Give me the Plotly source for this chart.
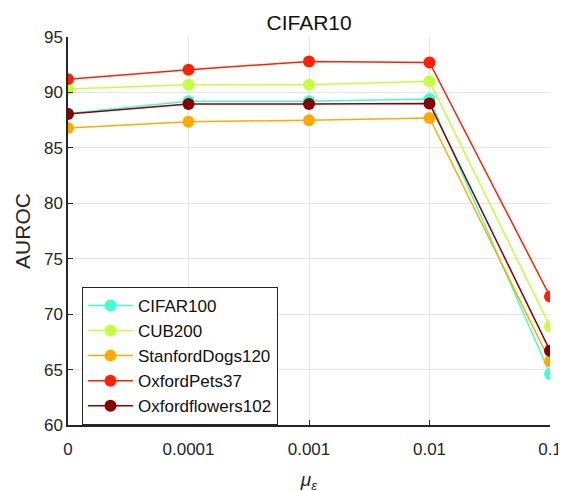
import plotly.graph_objects as go

x_labels = ['0', '0.0001', '0.001', '0.01', '0.1']
series_names = ['CIFAR100', 'CUB200', 'StanfordDogs120', 'OxfordPets37', 'Oxfordflowers102']
cifar100 = [88.1, 89.2, 89.2, 89.4, 64.6]
cub200 = [90.3, 90.7, 90.7, 91.0, 68.9]
dogs120 = [86.8, 87.35, 87.5, 87.7, 65.75]
pets37 = [91.2, 92.05, 92.8, 92.7, 71.6]
flowers102 = [88.05, 88.95, 88.95, 89.0, 66.7]

colors = ['#40FFD0', '#C4FF40', '#FFAA00', '#FF2200', '#880000']
all_series = [cifar100, cub200, dogs120, pets37, flowers102]

fig = go.Figure()
for name, vals, col in zip(series_names, all_series, colors):
    fig.add_trace(go.Scatter(
        x=list(range(len(x_labels))), y=vals, name=name,
        mode='lines+markers',
        line=dict(color=col, width=1.5),
        marker=dict(color=col, size=12),
    ))

font_family = 'Liberation Sans, Arial, sans-serif'
fig.update_layout(
    width=566, height=491,
    margin=dict(l=60, r=24, t=29, b=74),
    paper_bgcolor='white', plot_bgcolor='white',
    font=dict(family=font_family, size=17, color='#262626'),
    title=dict(text='CIFAR10', x=0.532, xanchor='center', y=0.985, yanchor='top',
               font=dict(size=21, color='#111111')),
    showlegend=True,
    legend=dict(x=0.029, y=0.356, xanchor='left', yanchor='top',
                bgcolor='white', bordercolor='#262626', borderwidth=1,
                font=dict(size=17, color='#111111'), itemwidth=45,
                tracegroupgap=0),
    xaxis=dict(
        tickmode='array', tickvals=list(range(len(x_labels))), ticktext=x_labels,
        range=[0, 4], showgrid=True, gridcolor='#e3e3e3', gridwidth=1,
        showline=True, linecolor='#262626', linewidth=1.5,
        ticks='inside', ticklen=5, tickcolor='#262626',
        ticklabelstandoff=8,
        zeroline=False, automargin=False,
        title=dict(text='<i>μ<sub>ε</sub></i>', standoff=15, font=dict(size=19)),
    ),
    yaxis=dict(
        range=[60, 95], dtick=5, showgrid=True, gridcolor='#e3e3e3', gridwidth=1,
        showline=True, linecolor='#262626', linewidth=1.5,
        ticks='inside', ticklen=5, tickcolor='#262626',
        zeroline=False, automargin=False,
        title=dict(text='AUROC', standoff=8, font=dict(size=21)),
    ),
)

fig.write_html('out.html')
